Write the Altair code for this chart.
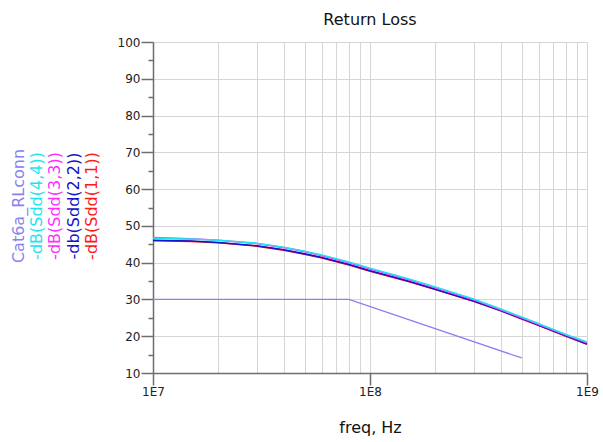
import altair as alt
import pandas as pd

# ---- data ----
freq = [1e7, 1.5e7, 2e7, 3e7, 4e7, 5e7, 6e7, 8e7, 1e8, 1.5e8, 2e8, 3e8, 4e8, 5e8, 6e8, 8e8, 1e9]
sdd44 = [46.6, 46.4, 46.1, 45.3, 44.2, 43.1, 42.1, 40.2, 38.5, 35.6, 33.4, 30.1, 27.4, 25.2, 23.4, 20.5, 18.4]
sdd33 = [46.8, 46.5, 46.1, 45.2, 44.1, 43.0, 41.9, 40.0, 38.3, 35.4, 33.2, 29.9, 27.2, 25.0, 23.2, 20.3, 18.2]
sdd22 = [46.1, 45.9, 45.5, 44.6, 43.5, 42.4, 41.4, 39.5, 37.8, 35.0, 32.8, 29.6, 27.0, 24.8, 23.0, 20.1, 17.9]
sdd11 = [46.0, 45.8, 45.4, 44.5, 43.4, 42.3, 41.3, 39.4, 37.7, 34.9, 32.7, 29.5, 26.9, 24.7, 22.9, 20.0, 17.8]

limit_freq = [1e7, 8e7, 5e8]
limit_db = [30, 30, 14.1]

series_names = ["Cat6a_RLconn", "-dB(Sdd(4,4))", "-dB(Sdd(3,3))", "-db(Sdd(2,2))", "-dB(Sdd(1,1))"]
series_colors = ["#8a80f2", "#1ee4f0", "#ff30ff", "#1414c8", "#ff1a1a"]

x_major = [1e7, 1e8, 1e9]
x_minor = [2e7, 3e7, 4e7, 5e7, 6e7, 7e7, 8e7, 9e7, 2e8, 3e8, 4e8, 5e8, 6e8, 7e8, 8e8, 9e8]
y_major = [10, 20, 30, 40, 50, 60, 70, 80, 90, 100]
y_minor = [15, 25, 35, 45, 55, 65, 75, 85, 95]

# ---- tables ----
rows = []
for name, vals in [("-dB(Sdd(1,1))", sdd11), ("-db(Sdd(2,2))", sdd22),
                   ("-dB(Sdd(3,3))", sdd33), ("-dB(Sdd(4,4))", sdd44)]:
    for f, v in zip(freq, vals):
        rows.append({"freq": f, "db": v, "series": name})
df = pd.DataFrame(rows)
df_lim = pd.DataFrame({"freq": limit_freq, "db": limit_db, "series": "Cat6a_RLconn"})

FONT = "DejaVu Sans"
AX = "#6e6e6e"
GRID = "#d6d6d6"

color_scale = alt.Scale(domain=series_names, range=series_colors)
xscale = alt.Scale(type="log", domain=[1e7, 1e9], nice=False)
yscale = alt.Scale(domain=[10, 100], nice=False)

W, H = 434, 331

main_lines = alt.Chart(df).mark_line(strokeWidth=1.6).encode(
    x=alt.X("freq:Q", scale=xscale, axis=alt.Axis(
        values=x_major, orient="bottom", labelExpr="'1E' + round(log(datum.value)/LN10)",
        title="freq, Hz", titleFont=FONT, titleFontSize=16, titleFontWeight="normal",
        titleColor="#111", titlePadding=22,
        labelFont=FONT, labelFontSize=12, labelColor="#222", labelPadding=1,
        tickSize=12, tickColor=AX, tickWidth=1.5, domainColor=AX, domainWidth=1.5,
        grid=True, gridColor=GRID, gridWidth=1, labelFlush=False)),
    y=alt.Y("db:Q", scale=yscale, axis=alt.Axis(
        values=y_major, orient="left", title=None, labelFont=FONT, labelFontSize=12,
        labelColor="#222", labelPadding=1, tickSize=12, tickColor=AX, tickWidth=1.5,
        domainColor=AX, domainWidth=1.5, grid=True, gridColor=GRID, gridWidth=1)),
    color=alt.Color("series:N", scale=color_scale, legend=None),
)

# limit line; its axes give the minor grid / minor ticks
limit_line = alt.Chart(df_lim).mark_line(strokeWidth=1.25).encode(
    x=alt.X("freq:Q", scale=xscale, axis=alt.Axis(
        values=x_minor, orient="bottom", labels=False, ticks=False, domain=False,
        title=None, grid=True, gridColor=GRID, gridWidth=1)),
    y=alt.Y("db:Q", scale=yscale, axis=alt.Axis(
        values=y_minor, orient="left", labels=False, domain=False, title=None,
        tickSize=5, tickColor=AX, tickWidth=1.5, grid=False)),
    color=alt.Color("series:N", scale=color_scale, legend=None),
)

# stacked rotated colored labels on the left (act as the legend)
label_x = [-134, -116, -98, -79, -61]
text_layers = []
for name, px in zip(series_names, label_x):
    text_layers.append(
        alt.Chart(pd.DataFrame({"series": [name]})).mark_text(
            angle=270, fontSize=16, font=FONT, align="center", baseline="middle"
        ).encode(
            text="series:N",
            x=alt.value(px),
            y=alt.value(164),
            color=alt.Color("series:N", scale=color_scale, legend=None),
        )
    )

chart = alt.layer(main_lines, limit_line, *text_layers).resolve_axis(
    x="independent", y="independent"
).properties(
    width=W, height=H,
    title=alt.TitleParams("Return Loss", font=FONT, fontSize=16, fontWeight="normal",
                          color="#111", offset=-5, baseline="alphabetic"),
    autosize=alt.AutoSizeParams(type="none"),
    padding={"left": 153, "top": 42, "right": 16, "bottom": 69},
).configure_view(stroke="#777", strokeWidth=1).configure(background="white")

chart.save("out.html", embed_options={"renderer": "svg", "actions": False})
